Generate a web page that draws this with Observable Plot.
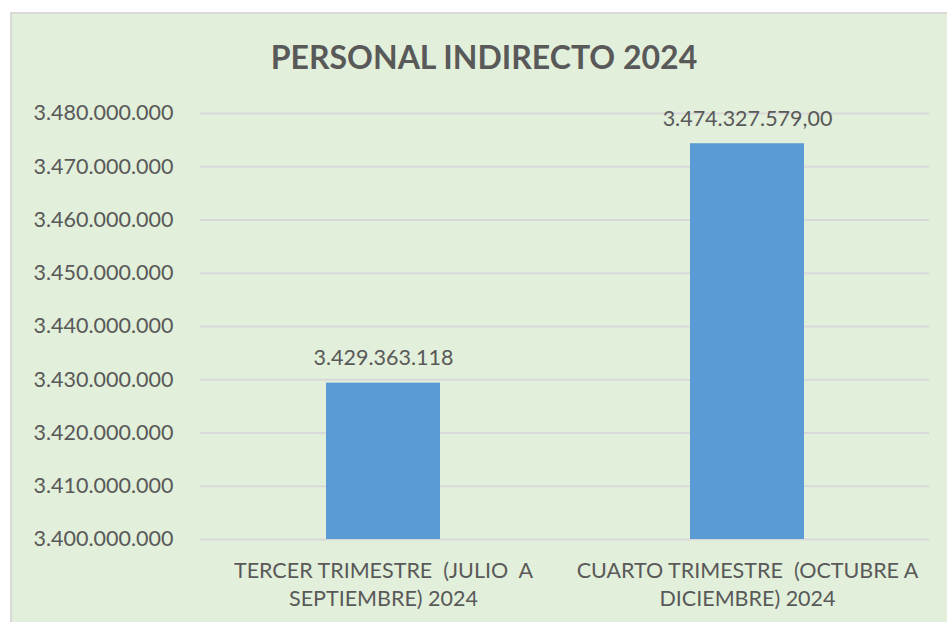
<!DOCTYPE html>
<html>
<head>
<meta charset="utf-8">
<script src="https://cdn.jsdelivr.net/npm/d3@7"></script>
<script src="https://cdn.jsdelivr.net/npm/@observablehq/plot@0.6"></script>
<style>
  html, body { margin: 0; padding: 0; background: #ffffff; width: 947px; height: 622px; overflow: hidden; }
  #frame { position: absolute; left: 10px; top: 12px; width: 960px; height: 640px; background: #E2EFDA; border: 2px solid #d9d9d9; box-sizing: border-box; }
  #title { position: absolute; left: 0; top: 37px; width: 968px; text-align: center; font-family: Lato, sans-serif; font-weight: bold; font-size: 32px; color: #595959; }
  #chart { position: absolute; left: 0; top: 0; }
  #chart svg text { white-space: pre; }
</style>
</head>
<body>
<div id="frame"></div>
<div id="title">PERSONAL INDIRECTO 2024</div>
<div id="chart"></div>
<script>
const categories = [
  "TERCER TRIMESTRE  (JULIO  A\nSEPTIEMBRE) 2024",
  "CUARTO TRIMESTRE  (OCTUBRE A\nDICIEMBRE) 2024"
];
const values = [3429363118, 3474327579];
const valueLabels = ["3.429.363.118", "3.474.327.579,00"];
const yTicks = [3400000000, 3410000000, 3420000000, 3430000000, 3440000000, 3450000000, 3460000000, 3470000000, 3480000000];

const data = categories.map((c, i) => ({cat: c, value: values[i], label: valueLabels[i]}));

const locale = d3.formatLocale({decimal: ",", thousands: ".", grouping: [3], currency: ["", ""]});
const fmt = locale.format(",d");

const ink = "#595959";

const chart = Plot.plot({
  width: 947,
  height: 622,
  marginLeft: 200,
  marginRight: 18,
  marginTop: 113,
  marginBottom: 83,
  style: {background: "transparent", fontFamily: "Lato, sans-serif", fontSize: "21px", color: ink, overflow: "visible"},
  x: {domain: categories, paddingInner: 0.687, paddingOuter: 0.3435, axis: null, label: null},
  y: {domain: [3400000000, 3480000000], axis: null, label: null},
  marks: [
    Plot.gridY(yTicks, {stroke: "#d9d9d9", strokeOpacity: 1, strokeWidth: 2}),
    Plot.barY(data, {x: "cat", y1: 3400000000, y2: "value", fill: "#5B9BD5"}),
    Plot.text(data, {x: "cat", y: "value", text: "label", lineAnchor: "bottom", dy: -18, fill: ink, fontSize: 21.5}),
    Plot.axisY(yTicks, {tickSize: 0, tickPadding: 27, tickFormat: fmt, fill: ink, fontSize: 21.5, label: null}),
    Plot.axisX({tickSize: 0, tickPadding: 19, fill: ink, fontSize: 21.5, lineHeight: 1.3, label: null})
  ]
});
document.getElementById("chart").appendChild(chart);
</script>
</body>
</html>
